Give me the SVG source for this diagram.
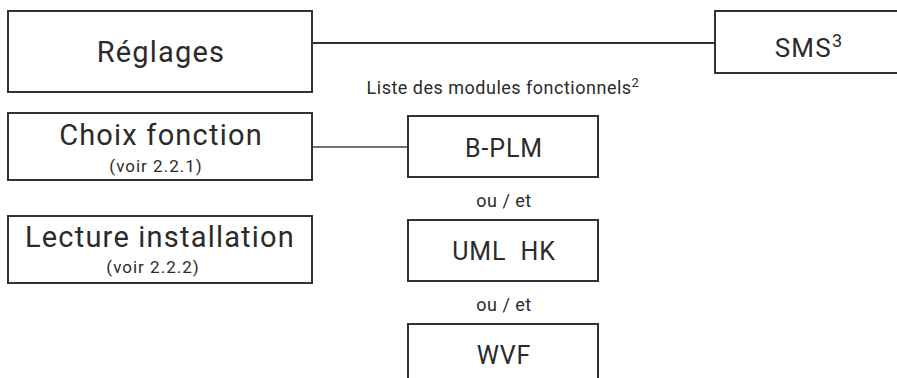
<svg xmlns="http://www.w3.org/2000/svg" width="897" height="378" viewBox="0 0 897 378">
<style>
.box{fill:#fff;stroke:#333;stroke-width:2}
.ln{stroke:#333;stroke-width:2;fill:none}
.ln1{stroke:#444;stroke-width:1.3;fill:none}
text{font-family:Roboto,"Liberation Sans",sans-serif;fill:#2b2b2b;text-anchor:middle}
.big{font-size:29px;letter-spacing:1.2px}
.med{font-size:25px;letter-spacing:0.9px}
.sm{font-size:17px;letter-spacing:1px}
.lb{font-size:18px;letter-spacing:0.5px}
</style>
<rect width="897" height="378" fill="#fff"/>
<g id="connectors">
<line class="ln" x1="312" y1="43" x2="715" y2="43"/>
<line class="ln1" x1="312" y1="147" x2="408" y2="147"/>
</g>
<g id="reglages">
<rect class="box" x="8" y="11" width="304" height="81"/>
<text class="big" x="161" y="62">Réglages</text>
</g>
<g id="sms">
<rect class="box" x="715" y="11" width="190" height="62"/>
<text class="med" x="809" y="57" style="font-size:26px;letter-spacing:1.2px">SMS<tspan font-size="18" dy="-10">3</tspan></text>
</g>
<g id="choix">
<rect class="box" x="8" y="113" width="304" height="67"/>
<text class="big" x="161" y="145">Choix fonction</text>
<text class="sm" x="156" y="172">(voir 2.2.1)</text>
</g>
<g id="lecture">
<rect class="box" x="8" y="216" width="304" height="67"/>
<text class="big" x="160" y="247">Lecture installation</text>
<text class="sm" x="153" y="273">(voir 2.2.2)</text>
</g>
<g id="liste">
<text class="lb" x="503" y="94">Liste des modules fonctionnels<tspan font-size="13" dy="-7">2</tspan></text>
</g>
<g id="bplm">
<rect class="box" x="408" y="116" width="190" height="61"/>
<text class="med" x="504" y="157">B-PLM</text>
</g>
<g id="ouet1"><text class="lb" x="504" y="207">ou / et</text></g>
<g id="umlhk">
<rect class="box" x="408" y="220" width="190" height="61"/>
<text class="med" x="504" y="260" xml:space="preserve">UML  HK</text>
</g>
<g id="ouet2"><text class="lb" x="504" y="311">ou / et</text></g>
<g id="wvf">
<rect class="box" x="408" y="324" width="190" height="70"/>
<text class="med" x="504" y="364">WVF</text>
</g>
</svg>
